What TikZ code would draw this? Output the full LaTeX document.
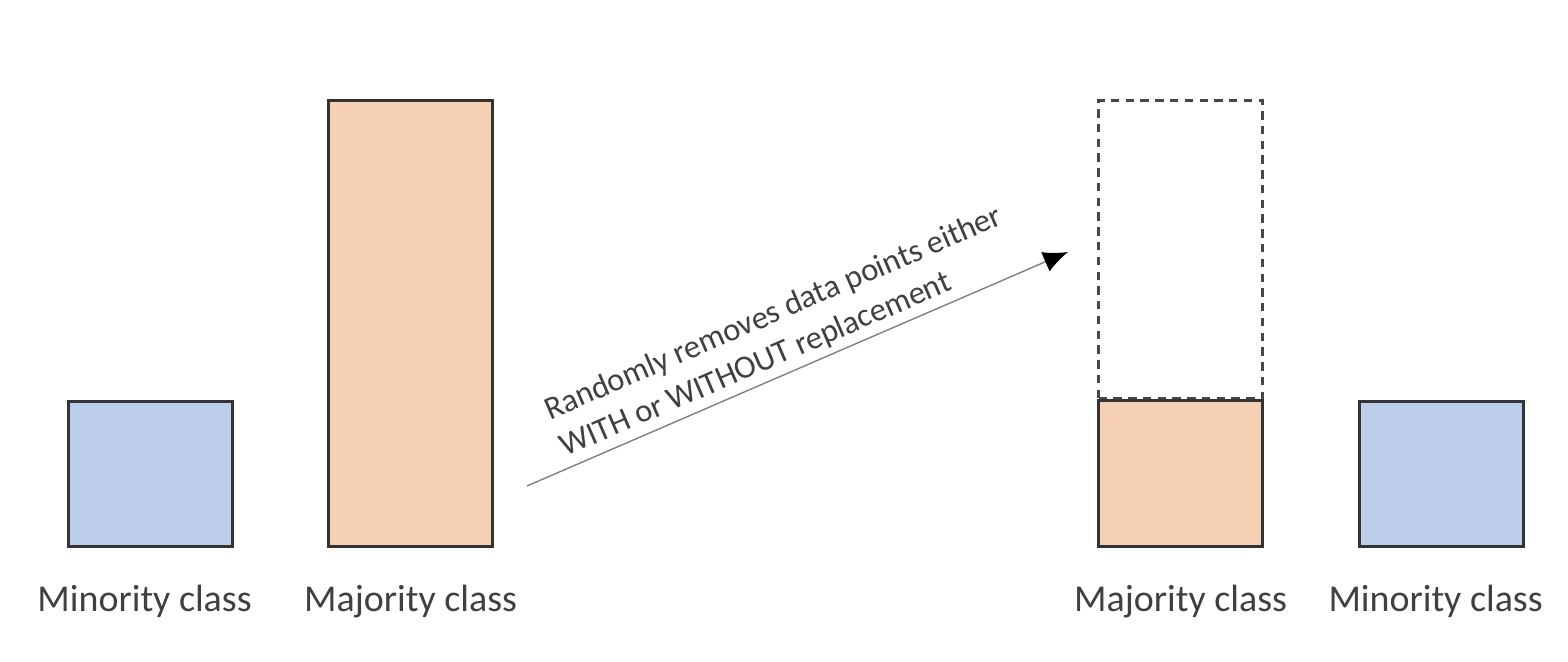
\documentclass[tikz,border=0pt]{standalone}
\usepackage{fontspec}
\setmainfont{Carlito}
\usetikzlibrary{positioning,arrows.meta}
\definecolor{minblue}{HTML}{BCCDE9}
\definecolor{majpeach}{HTML}{F5D0B4}
\definecolor{edgegray}{HTML}{333333}
\definecolor{txtgray}{HTML}{404040}

\begin{document}
\begin{tikzpicture}[
  bin/.style={draw=edgegray, line width=0.9pt, minimum width=1.64cm, inner sep=0pt, anchor=south west},
  classlbl/.style={font=\fontsize{10.8}{13}\selectfont, text=txtgray, inner sep=0pt},
  removed/.style={draw=edgegray!90, line width=0.9pt, dash pattern=on 2.4pt off 1.8pt, minimum width=1.64cm, inner sep=0pt, anchor=south west}
]
\useasboundingbox (0,0) rectangle (15.68,6.62);

% Before: original class sizes
\node[bin, fill=minblue, minimum height=1.45cm] (minL) at (0.67,1.14) {};
\node[bin, fill=majpeach, minimum height=4.46cm] (majL) at (3.27,1.14) {};
\node[classlbl, below=0.64cm of minL.south, anchor=base, xshift=-0.06cm] (minLlbl) {Minority class};
\node[classlbl, below=0.64cm of majL.south, anchor=base] (majLlbl) {Majority class};

% After: majority reduced to minority size
\node[removed, minimum height=2.98cm] (gone) at (10.97,2.62) {};
\node[bin, fill=majpeach, minimum height=1.46cm] (majR) at (10.97,1.14) {};
\node[bin, fill=minblue, minimum height=1.45cm] (minR) at (13.58,1.14) {};
\node[classlbl, below=0.64cm of majR.south, anchor=base] (majRlbl) {Majority class};
\node[classlbl, below=0.64cm of minR.south, anchor=base, xshift=-0.06cm] (minRlbl) {Minority class};

% Undersampling step
\coordinate (arrS) at (5.27,1.76);
\coordinate (arrE) at (10.68,4.10);
\draw[gray, line width=0.4pt, -{Latex[black, length=7pt, width=6pt]}] (arrS) -- (arrE)
  node[pos=0.5, sloped, above, inner sep=1.5pt, align=left, text=txtgray,
       font=\fontsize{9.25}{11.4}\selectfont] (steptxt)
  {Randomly removes data points either\\WITH or WITHOUT replacement};
\end{tikzpicture}
\end{document}
